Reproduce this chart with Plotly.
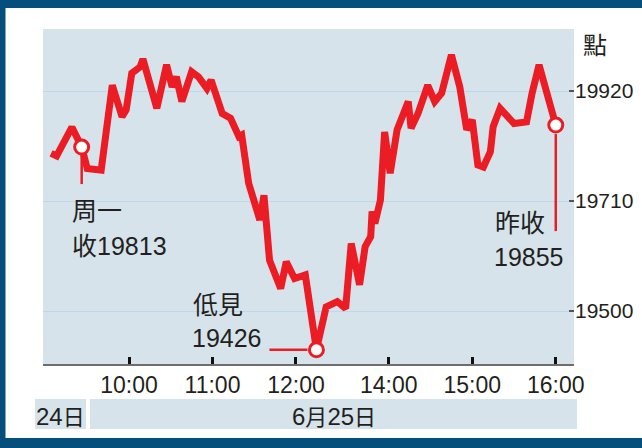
import plotly.graph_objects as go

# ---------------- data ----------------
mon_times = ["15:38", "15:42", "15:53", "15:56", "16:00"]
mon_values = [19801, 19796, 19851, 19833, 19813]

tue_times = ["09:30", "09:40", "09:48", "09:55", "09:58", "10:02", "10:08", "10:10", "10:20", "10:27",
             "10:31", "10:34", "10:38", "10:45", "10:50", "10:56", "10:59", "11:07", "11:13", "11:19",
             "11:21", "11:26", "11:34", "11:37", "11:41", "11:49", "11:53", "11:59", "13:00", "13:08",
             "13:15", "13:23", "13:29", "13:33", "13:39", "13:43", "13:47", "13:48", "13:50", "13:54",
             "13:57", "14:01", "14:06", "14:14", "14:16", "14:21", "14:28", "14:33", "14:38", "14:42",
             "14:45", "14:51", "14:56", "15:00", "15:04", "15:08", "15:13", "15:15", "15:20", "15:30",
             "15:39", "15:43", "15:48", "16:00"]
tue_values = [19772, 19769, 19931, 19871, 19884, 19954, 19966, 19981, 19887, 19970,
              19928, 19947, 19900, 19957, 19947, 19925, 19941, 19877, 19868, 19833,
              19836, 19744, 19674, 19721, 19597, 19543, 19594, 19562, 19569, 19426,
              19508, 19518, 19505, 19629, 19550, 19623, 19642, 19690, 19667, 19712,
              19842, 19763, 19846, 19900, 19849, 19877, 19931, 19900, 19916, 19954,
              19989, 19928, 19846, 19865, 19779, 19775, 19804, 19852, 19887, 19858,
              19861, 19916, 19970, 19855]

x_tick_labels = ["10:00", "11:00", "12:00", "14:00", "15:00", "16:00"]
y_ticks = [19500, 19710, 19920]

# ---------------- compressed trading-time axis ----------------
OVERNIGHT_GAP = 4.0   # minutes-equivalent between Mon close and Tue open
LUNCH_GAP = 6.7       # minutes-equivalent for the lunch break


def mins(t):
    h, m = map(int, t.split(":"))
    return h * 60 + m


def pos_mon(t):
    return mins(t) - mins("16:00") - OVERNIGHT_GAP


def pos_tue(t):
    m = mins(t)
    if m <= mins("12:00"):
        return m - mins("09:30")
    return m - mins("13:00") + 150 + LUNCH_GAP


xs = [pos_mon(t) for t in mon_times] + [pos_tue(t) for t in tue_times]
ys = mon_values + tue_values

i_low = len(mon_values) + tue_values.index(min(tue_values))
mark_idx = [len(mon_values) - 1, i_low, len(ys) - 1]
mark_x = [xs[i] for i in mark_idx]
mark_y = [ys[i] for i in mark_idx]

RED = "#ec1c24"
NAVY = "#044f7c"
PANEL = "#d6e3eb"
TXT = "#231f20"
SANS = "Liberation Sans, Arial, sans-serif"
CJK = "Noto Sans CJK TC"

W, H = 642, 448


def px(x):
    return x / W


def py(y):
    return 1 - y / H


fig = go.Figure()
fig.add_trace(go.Scatter(x=xs, y=ys, mode="lines",
                         line=dict(color=RED, width=7), hoverinfo="skip"))
fig.add_trace(go.Scatter(x=mark_x, y=mark_y, mode="markers",
                         marker=dict(size=14, color="white", line=dict(color=RED, width=3)),
                         hoverinfo="skip"))

shapes = []
# frame
shapes.append(dict(type="rect", xref="paper", yref="paper", x0=0, x1=1, y0=py(8), y1=1,
                   fillcolor=NAVY, line=dict(width=0), layer="below"))
shapes.append(dict(type="rect", xref="paper", yref="paper", x0=0, x1=px(5.5), y0=0, y1=1,
                   fillcolor=NAVY, line=dict(width=0), layer="below"))
shapes.append(dict(type="rect", xref="paper", yref="paper", x0=0, x1=1, y0=0, y1=py(438),
                   fillcolor=NAVY, line=dict(width=0), layer="below"))
# date boxes
shapes.append(dict(type="rect", xref="paper", yref="paper", x0=px(35), x1=px(86), y0=py(429), y1=py(399),
                   fillcolor=PANEL, line=dict(width=0), layer="below"))
shapes.append(dict(type="rect", xref="paper", yref="paper", x0=px(90), x1=px(577), y0=py(429), y1=py(399),
                   fillcolor=PANEL, line=dict(width=0), layer="below"))
# leader lines (pixel offsets from the marked points)
shapes.append(dict(type="line", xref="x", yref="y", ysizemode="pixel", yanchor=mark_y[0],
                   x0=mark_x[0], x1=mark_x[0], y0=-9, y1=-37, line=dict(color=RED, width=2.5)))
shapes.append(dict(type="line", xref="x", yref="y", xsizemode="pixel", xanchor=mark_x[1],
                   x0=-47, x1=-9, y0=mark_y[1], y1=mark_y[1], line=dict(color=RED, width=2.5)))
shapes.append(dict(type="line", xref="x", yref="y", ysizemode="pixel", yanchor=mark_y[2],
                   x0=mark_x[2], x1=mark_x[2], y0=-9, y1=-106, line=dict(color=RED, width=2.5)))


def cjk(s, size=25):
    return f'<span style="font-family:{CJK};font-size:{size}px">{s}</span>'


annotations = []


def note(text, x, y, anchor="left", size=25):
    annotations.append(dict(text=text, x=px(x), y=py(y), xref="paper", yref="paper",
                            xanchor=anchor, yanchor="middle", showarrow=False,
                            font=dict(family=SANS, size=size, color=TXT)))


note(cjk("周一"), 70, 208.5)
note(cjk("收") + "19813", 70, 243.5)
note(cjk("低見"), 191, 302.5)
note("19426", 190, 337.5)
note(cjk("昨收"), 493, 220.5)
note("19855", 492, 257)
note(cjk("點", 24), 594.5, 43.5, anchor="center")
note("24" + cjk("日", 22), 60.5, 414.5, anchor="center", size=24)
note("6" + cjk("月", 22) + "25" + cjk("日", 22), 333.5, 414.5, anchor="center", size=24)

x_range = [-31.8, 349.8]
y_range = [19398.9, 20038.4]

fig.update_layout(
    width=W, height=H,
    margin=dict(l=0, r=0, t=0, b=0, autoexpand=False),
    paper_bgcolor="white",
    plot_bgcolor=PANEL,
    showlegend=False,
    shapes=shapes,
    annotations=annotations,
    xaxis=dict(domain=[px(43), px(574)], range=x_range, fixedrange=True, automargin=False,
               tickvals=[pos_tue(t) for t in x_tick_labels], ticktext=x_tick_labels,
               ticks="inside", ticklen=7, tickwidth=3, tickcolor="#111",
               showline=True, linecolor="#6d6d6d", linewidth=1.5,
               showgrid=False, zeroline=False,
               tickfont=dict(family=SANS, size=23, color=TXT)),
    yaxis=dict(domain=[py(364), py(29)], range=y_range, fixedrange=True, automargin=False,
               side="right", tickvals=y_ticks, ticktext=[str(v) for v in y_ticks],
               ticks="inside", ticklen=5, tickwidth=1.5, tickcolor="#555",
               showgrid=True, gridcolor="#bcd8ec", gridwidth=1,
               showline=False, zeroline=False,
               tickfont=dict(family=SANS, size=21, color=TXT)),
)

fig.write_html("out.html", config={"displayModeBar": False},
               post_script="document.body.style.margin='0px';")
